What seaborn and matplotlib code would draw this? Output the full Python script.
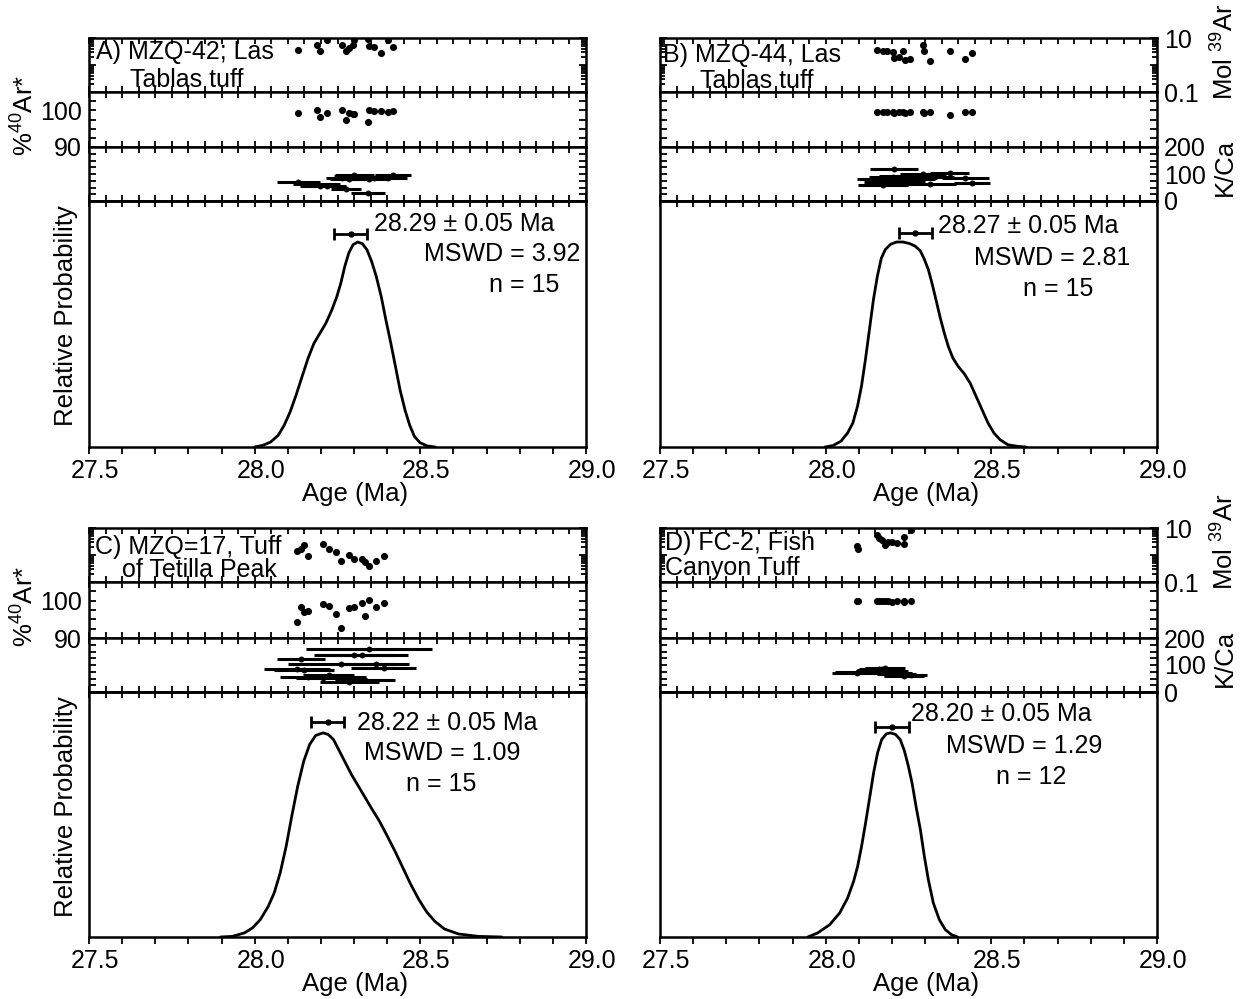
import numpy as np
import matplotlib
matplotlib.use("Agg")
import matplotlib.pyplot as plt
import seaborn as sns
from matplotlib.ticker import MultipleLocator, LogLocator, FuncFormatter, NullFormatter, NullLocator
from matplotlib.transforms import ScaledTranslation

# ---------------- A) MZQ-42, Las Tablas tuff ----------------
ages_a = [28.131, 28.187, 28.196, 28.217, 28.264, 28.276, 28.286, 28.298, 28.301, 28.342, 28.345, 28.360, 28.381, 28.401, 28.417]
err_a = [0.065, 0.07, 0.06, 0.06, 0.05, 0.045, 0.06, 0.06, 0.06, 0.05, 0.06, 0.06, 0.06, 0.06, 0.054]
mol_a = [3.7, 5.3, 3.4, 8.2, 5.3, 3.4, 4.3, 5.7, 8.7, 9.2, 4.9, 4.5, 2.8, 8.2, 4.5]
rad_a = [99.4, 100.1, 98.3, 99.4, 100.1, 97.4, 99.2, 99.0, 98.9, 96.7, 100.1, 99.7, 99.7, 99.5, 99.9]
kca_a = [70, 62, 55, 57, 85, 44, 82, 92, 95, 31, 80, 84, 88, 86, 95]
curve_age_a = [28.000, 28.024, 28.048, 28.071, 28.089, 28.107, 28.125, 28.143, 28.161, 28.179, 28.197, 28.215,
               28.233, 28.248, 28.260, 28.272, 28.284, 28.297, 28.311, 28.325, 28.339, 28.353, 28.367, 28.382,
               28.396, 28.411, 28.425, 28.439, 28.454, 28.468, 28.482, 28.499, 28.521, 28.545]
curve_prob_a = [0.000, 0.008, 0.024, 0.057, 0.106, 0.171, 0.253, 0.343, 0.432, 0.506, 0.555, 0.604,
                0.669, 0.734, 0.799, 0.881, 0.946, 0.987, 1.000, 0.992, 0.962, 0.905, 0.832, 0.734,
                0.620, 0.506, 0.392, 0.277, 0.179, 0.106, 0.052, 0.021, 0.005, 0.000]

# ---------------- B) MZQ-44, Las Tablas tuff ----------------
ages_b = [28.154, 28.172, 28.186, 28.202, 28.206, 28.220, 28.232, 28.240, 28.256, 28.294, 28.298, 28.314, 28.374, 28.422, 28.442]
err_b = [0.06, 0.075, 0.07, 0.07, 0.072, 0.08, 0.07, 0.09, 0.08, 0.07, 0.09, 0.08, 0.06, 0.07, 0.055]
mol_b = [3.6, 3.2, 3.2, 3.0, 1.8, 2.0, 3.2, 1.5, 1.7, 5.3, 3.4, 1.35, 3.2, 1.7, 2.8]
rad_b = [99.5, 99.5, 99.5, 99.6, 99.4, 99.5, 99.5, 99.3, 99.5, 99.5, 99.4, 99.5, 98.7, 99.5, 99.5]
kca_b = [80, 59, 70, 88, 117, 75, 93, 80, 85, 101, 90, 64, 105, 86, 68]
curve_age_b = [27.998, 28.022, 28.046, 28.066, 28.082, 28.096, 28.108, 28.120, 28.132, 28.144, 28.156, 28.168,
               28.180, 28.196, 28.214, 28.234, 28.254, 28.270, 28.286, 28.298, 28.310, 28.322, 28.334, 28.346,
               28.358, 28.370, 28.384, 28.400, 28.418, 28.436, 28.454, 28.472, 28.490, 28.508, 28.526, 28.550,
               28.580, 28.604]
curve_prob_b = [0.000, 0.007, 0.028, 0.068, 0.117, 0.198, 0.296, 0.426, 0.572, 0.717, 0.833, 0.921,
                0.963, 0.989, 1.000, 1.000, 0.992, 0.980, 0.956, 0.915, 0.865, 0.792, 0.711, 0.629,
                0.556, 0.491, 0.434, 0.393, 0.358, 0.312, 0.247, 0.182, 0.117, 0.068, 0.036, 0.011,
                0.003, 0.000]

# ---------------- C) MZQ-17, Tuff of Tetilla Peak ----------------
ages_c = [28.127, 28.139, 28.149, 28.161, 28.206, 28.223, 28.246, 28.262, 28.286, 28.300, 28.324, 28.333, 28.345, 28.367, 28.389]
err_c = [0.10, 0.072, 0.09, 0.085, 0.08, 0.078, 0.09, 0.16, 0.09, 0.12, 0.14, 0.09, 0.19, 0.10, 0.098]
mol_c = [1.45, 1.67, 2.28, 0.94, 2.55, 1.67, 1.26, 0.58, 0.97, 0.71, 0.71, 0.53, 0.40, 0.58, 0.89]
rad_c = [94.3, 98.2, 97.0, 97.2, 99.0, 98.6, 96.4, 92.8, 98.0, 98.4, 99.5, 95.9, 100.2, 98.4, 99.5]
kca_c = [86, 121, 83, 55, 52, 64, 56, 105, 37, 136, 138, 45, 160, 105, 90]
curve_age_c = [27.897, 27.933, 27.969, 27.993, 28.017, 28.041, 28.059, 28.077, 28.095, 28.112, 28.130, 28.148,
               28.166, 28.184, 28.206, 28.222, 28.238, 28.256, 28.274, 28.292, 28.310, 28.328, 28.352, 28.376,
               28.400, 28.423, 28.447, 28.471, 28.495, 28.519, 28.543, 28.573, 28.615, 28.675, 28.746]
curve_prob_c = [0.000, 0.003, 0.020, 0.044, 0.085, 0.150, 0.216, 0.314, 0.444, 0.592, 0.739, 0.861,
                0.943, 0.987, 1.000, 0.992, 0.967, 0.910, 0.853, 0.796, 0.747, 0.698, 0.632, 0.569,
                0.495, 0.422, 0.340, 0.258, 0.185, 0.123, 0.078, 0.039, 0.015, 0.003, 0.000]

# ---------------- D) FC-2, Fish Canyon Tuff ----------------
ages_d = [28.094, 28.097, 28.155, 28.160, 28.170, 28.178, 28.189, 28.200, 28.214, 28.235, 28.237, 28.257]
err_d = [0.075, 0.07, 0.06, 0.06, 0.06, 0.06, 0.06, 0.06, 0.06, 0.06, 0.06, 0.05]
mol_d = [2.1, 1.7, 5.4, 4.4, 3.6, 2.3, 3.1, 3.0, 2.9, 4.7, 2.5, 8.4]
rad_d = [99.8, 99.8, 99.8, 99.8, 99.8, 99.8, 99.8, 99.7, 99.8, 99.8, 99.7, 99.8]
kca_d = [72, 74, 80, 85, 84, 88, 76, 70, 66, 62, 60, 64]
curve_age_d = [27.946, 27.976, 28.012, 28.042, 28.066, 28.084, 28.096, 28.108, 28.120, 28.133, 28.145, 28.157,
               28.169, 28.183, 28.196, 28.211, 28.225, 28.237, 28.249, 28.261, 28.273, 28.286, 28.298, 28.310,
               28.325, 28.343, 28.361, 28.380, 28.398]
curve_prob_d = [0.000, 0.020, 0.060, 0.117, 0.190, 0.271, 0.343, 0.441, 0.554, 0.685, 0.807, 0.904,
                0.967, 0.995, 1.000, 0.992, 0.967, 0.915, 0.841, 0.752, 0.637, 0.524, 0.393, 0.280,
                0.166, 0.085, 0.036, 0.011, 0.000]

# weighted mean ages, errors, MSWD and n
wmean = [28.29, 28.27, 28.22, 28.20]
wmean_err = [0.05, 0.05, 0.05, 0.05]
mswd = [3.92, 2.81, 1.09, 1.29]
n_grains = [15, 15, 15, 12]

sample_titles = [("A) MZQ-42; Las", "Tablas tuff"),
                 ("B) MZQ-44, Las", "Tablas tuff"),
                 ("C) MZQ=17, Tuff", "of Tetilla Peak"),
                 ("D) FC-2, Fish", "Canyon Tuff")]

# ---------------- style ----------------
sns.set_theme(style="ticks")
plt.rcParams["font.family"] = ["Liberation Sans", "DejaVu Sans"]
plt.rcParams["mathtext.fontset"] = "custom"
plt.rcParams["mathtext.rm"] = "Liberation Sans"
plt.rcParams["mathtext.it"] = "Liberation Sans:italic"
plt.rcParams["mathtext.bf"] = "Liberation Sans:bold"
for key in ("axes.edgecolor", "text.color", "xtick.color", "ytick.color", "axes.labelcolor"):
    plt.rcParams[key] = "black"
plt.rcParams["axes.linewidth"] = 1.8

W, H = 1244, 999
fig = plt.figure(figsize=(W / 100, H / 100), dpi=100)


def add_ax(left, top, right, bottom):
    return fig.add_axes([left / W, 1 - bottom / H, (right - left) / W, (bottom - top) / H])


COLS = {"left": (89, 586), "right": (660, 1157)}
ROWS = {"top": (38, 92, 147, 201, 447), "bottom": (528, 582, 638, 692, 937)}
XMIN, XMAX = 27.5, 29.0
TW = 1.3
FS = 18


def only(values, fmt):
    def f(v, pos):
        for val in values:
            if abs(v - val) < 1e-6 * max(1, abs(val)):
                return fmt(val)
        return ""
    return FuncFormatter(f)


def strip_common(ax):
    ax.set_xlim(XMIN, XMAX)
    ax.xaxis.set_major_locator(MultipleLocator(0.1))
    ax.xaxis.set_minor_locator(MultipleLocator(0.05))
    ax.tick_params(axis="x", which="both", direction="in", top=True, bottom=True,
                   labelbottom=False, width=TW, length=4.5)
    ax.tick_params(axis="y", which="both", direction="in", left=True, right=True,
                   labelleft=False, labelright=False, width=TW, labelsize=FS, pad=5)
    ax.tick_params(axis="y", which="major", length=5)
    ax.tick_params(axis="y", which="minor", length=3.5)
    ax.set_xlabel("")
    ax.set_ylabel("")


def draw_panel(idx, col, row, ages, err, mol, rad, kca, cage, cprob, layout):
    l, r = COLS[col]
    y0, y1, y2, y3, y4 = ROWS[row]
    ages = np.asarray(ages)
    err = np.asarray(err)

    # moles of 39Ar (log scale)
    ax1 = add_ax(l, y0, r, y1)
    ax1.set_yscale("log")
    strip_common(ax1)
    ax1.set_ylim(0.1, 10)
    ax1.yaxis.set_major_locator(LogLocator(base=10))
    ax1.yaxis.set_minor_locator(LogLocator(base=10, subs=np.arange(2, 10)))
    ax1.yaxis.set_minor_formatter(NullFormatter())
    ax1.yaxis.set_major_formatter(only([0.1, 10], lambda v: "10" if v > 1 else "0.1"))
    sns.scatterplot(x=ages, y=mol, ax=ax1, color="black", s=26, linewidth=0, legend=False, zorder=3)

    # radiogenic 40Ar
    ax2 = add_ax(l, y1, r, y2)
    strip_common(ax2)
    ax2.set_ylim(90, 105)
    ax2.yaxis.set_major_locator(MultipleLocator(2.5))
    ax2.yaxis.set_major_formatter(only([90, 100], lambda v: f"{v:.0f}"))
    sns.scatterplot(x=ages, y=rad, ax=ax2, color="black", s=26, linewidth=0, legend=False, zorder=3)

    # K/Ca with age error bars
    ax3 = add_ax(l, y2, r, y3)
    strip_common(ax3)
    ax3.set_ylim(0, 200)
    ax3.yaxis.set_major_locator(MultipleLocator(25))
    ax3.yaxis.set_major_formatter(only([0, 100, 200], lambda v: f"{v:.0f}"))
    ax3.hlines(kca, ages - err, ages + err, color="black", lw=2.2, zorder=2)
    sns.scatterplot(x=ages, y=kca, ax=ax3, color="black", s=18, linewidth=0, legend=False, zorder=3)

    if col == "left":
        ax2.tick_params(axis="y", labelleft=True)
    else:
        ax1.tick_params(axis="y", labelright=True)
        ax3.tick_params(axis="y", labelright=True)

    # relative probability
    axm = add_ax(l, y3, r, y4)
    sns.lineplot(x=cage, y=cprob, ax=axm, color="black", lw=2.0, sort=False, estimator=None)
    axm.set_xlim(XMIN, XMAX)
    axm.set_ylim(0, 1.2)
    axm.set_yticks([])
    axm.set_xlabel("")
    axm.set_ylabel("")
    axm.xaxis.set_major_locator(MultipleLocator(0.1))
    axm.xaxis.set_minor_locator(NullLocator())
    axm.xaxis.set_major_formatter(only([27.5, 28.0, 28.5, 29.0], lambda v: f"{v:.1f}"))
    axm.tick_params(axis="x", which="major", direction="out", length=5, width=TW,
                    top=False, bottom=True, labelsize=FS, pad=4)
    sec = axm.secondary_xaxis("top")
    sec.xaxis.set_major_locator(MultipleLocator(0.05))
    sec.tick_params(axis="x", direction="in", length=4.5, width=TW, labeltop=False)
    sec.spines["top"].set_linewidth(1.8)

    shift = ScaledTranslation(6 / 100, 0, fig.dpi_scale_trans)
    for t in axm.xaxis.get_major_ticks():
        t.label1.set_transform(t.label1.get_transform() + shift)

    # weighted mean age with its error
    axm.errorbar([wmean[idx]], [layout["bar_y"]], xerr=[wmean_err[idx]], fmt="o", ms=3.5,
                 color="black", ecolor="black", elinewidth=2, capsize=4, capthick=2, zorder=4)
    lines = [f"{wmean[idx]:.2f} \u00b1 {wmean_err[idx]:.2f} Ma",
             f"MSWD = {mswd[idx]:.2f}",
             f"n = {n_grains[idx]}"]
    for txt, (tx, ty) in zip(lines, layout["text_xy"]):
        axm.text(tx, ty, txt, ha="center", va="baseline", fontsize=FS)

    # sample name inside the top strip
    h1 = y1 - y0
    t1, t2 = sample_titles[idx]
    (dx1, b1), (dx2, b2) = layout["title"]
    ax1.text(dx1 / (r - l), 1 - b1 / h1, t1, transform=ax1.transAxes, ha="left", va="baseline",
             fontsize=FS, zorder=5)
    ax1.text(dx2 / (r - l), 1 - b2 / h1, t2, transform=ax1.transAxes, ha="left", va="baseline",
             fontsize=FS, zorder=5)

    # axis titles
    cx = (l + r) / 2 + 18
    fig.text(cx / W, 1 - (y4 + 47) / H, "Age (Ma)", ha="center", va="center", fontsize=18.5)
    if col == "left":
        fig.text(25 / W, 1 - ((y1 + y2) / 2 - 4) / H, "%$\\mathregular{^{40}}$Ar*", rotation=90,
                 ha="center", va="center", fontsize=18.5)
        fig.text(66 / W, 1 - ((y3 + y4) / 2 - 8) / H, "Relative Probability", rotation=90,
                 ha="center", va="center", fontsize=18.5)
    else:
        fig.text(1225 / W, 1 - ((y0 + y1) / 2 - 13) / H, "Mol $\\mathregular{^{39}}$Ar", rotation=90,
                 ha="center", va="center", fontsize=18.5)
        fig.text(1225 / W, 1 - ((y2 + y3) / 2 - 7) / H, "K/Ca", rotation=90,
                 ha="center", va="center", fontsize=18.5)


layouts = [
    {"bar_y": 1.041, "text_xy": [(28.632, 1.052), (28.748, 0.905), (28.814, 0.754)],
     "title": [(7, 21), (41, 49)]},
    {"bar_y": 1.044, "text_xy": [(28.612, 1.044), (28.684, 0.889), (28.702, 0.735)],
     "title": [(3, 24), (40, 50)]},
    {"bar_y": 1.052, "text_xy": [(28.581, 1.016), (28.567, 0.866), (28.563, 0.714)],
     "title": [(6, 26), (33, 49)]},
    {"bar_y": 1.028, "text_xy": [(28.530, 1.057), (28.600, 0.901), (28.620, 0.751)],
     "title": [(5, 22), (5, 47)]},
]

draw_panel(0, "left", "top", ages_a, err_a, mol_a, rad_a, kca_a, curve_age_a, curve_prob_a, layouts[0])
draw_panel(1, "right", "top", ages_b, err_b, mol_b, rad_b, kca_b, curve_age_b, curve_prob_b, layouts[1])
draw_panel(2, "left", "bottom", ages_c, err_c, mol_c, rad_c, kca_c, curve_age_c, curve_prob_c, layouts[2])
draw_panel(3, "right", "bottom", ages_d, err_d, mol_d, rad_d, kca_d, curve_age_d, curve_prob_d, layouts[3])

fig.savefig("out.png", dpi=100, facecolor="white")
